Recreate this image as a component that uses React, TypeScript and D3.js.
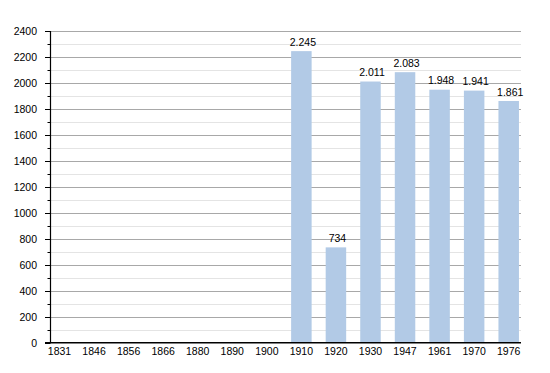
import React, { useRef, useEffect } from "react";
import * as d3 from "d3";

// Census years and population (missing years have no bar)
const years = [
  "1831", "1846", "1856", "1866", "1880", "1890", "1900",
  "1910", "1920", "1930", "1947", "1961", "1970", "1976",
];
const population: (number | null)[] = [
  null, null, null, null, null, null, null,
  2245, 734, 2011, 2083, 1948, 1941, 1861,
];
const majorTicks = [0, 200, 400, 600, 800, 1000, 1200, 1400, 1600, 1800, 2000, 2200, 2400];
const minorTicks = [100, 300, 500, 700, 900, 1100, 1300, 1500, 1700, 1900, 2100, 2300];

const WIDTH = 550;
const HEIGHT = 373;
const FONT = "'Liberation Sans', Arial, sans-serif";

const fmt = (v: number) => (v >= 1000 ? d3.format(",")(v).replace(/,/g, ".") : String(v));

export default function App() {
  const svgRef = useRef<SVGSVGElement>(null);

  useEffect(() => {
    if (!svgRef.current) return;
    const svg = d3.select(svgRef.current);
    svg.selectAll("*").remove();

    const left = 50.5;
    const right = 521;
    const bottom = 342.7;
    const top = 31;

    const y = d3.scaleLinear().domain([0, 2400]).range([bottom, top]);
    const x = d3.scalePoint<string>().domain(years).range([59.5, 508.7]);
    const barW = 20.5;

    // minor gridlines
    svg
      .append("g")
      .selectAll("line")
      .data(minorTicks)
      .join("line")
      .attr("x1", left)
      .attr("x2", right)
      .attr("y1", (d) => Math.round(y(d)) + 0.5)
      .attr("y2", (d) => Math.round(y(d)) + 0.5)
      .attr("stroke", "#e4e4e4")
      .attr("stroke-width", 1);

    // major gridlines
    svg
      .append("g")
      .selectAll("line")
      .data(majorTicks.filter((d) => d > 0))
      .join("line")
      .attr("x1", left)
      .attr("x2", right)
      .attr("y1", (d) => Math.round(y(d)) + 0.5)
      .attr("y2", (d) => Math.round(y(d)) + 0.5)
      .attr("stroke", "#a8a8a8")
      .attr("stroke-width", 1);

    const data = years
      .map((yr, i) => ({ yr, v: population[i] }))
      .filter((d) => d.v !== null) as { yr: string; v: number }[];

    // bars
    svg
      .append("g")
      .selectAll("rect")
      .data(data)
      .join("rect")
      .attr("x", (d) => (x(d.yr) as number) - barW / 2)
      .attr("width", barW)
      .attr("y", (d) => y(d.v))
      .attr("height", (d) => bottom - y(d.v))
      .attr("fill", "#b2cae6");

    // value labels
    svg
      .append("g")
      .selectAll("text")
      .data(data)
      .join("text")
      .attr("x", (d) => (x(d.yr) as number) + 1.5)
      .attr("y", (d) => y(d.v) - 5.5)
      .attr("text-anchor", "middle")
      .attr("font-family", FONT)
      .attr("font-size", 10.5)
      .attr("fill", "#000")
      .text((d) => fmt(d.v));

    // y axis ticks
    svg
      .append("g")
      .selectAll("line")
      .data(majorTicks)
      .join("line")
      .attr("x1", 45)
      .attr("x2", left)
      .attr("y1", (d) => Math.round(y(d)) + 0.5)
      .attr("y2", (d) => Math.round(y(d)) + 0.5)
      .attr("stroke", "#000");
    svg
      .append("g")
      .selectAll("line")
      .data(minorTicks)
      .join("line")
      .attr("x1", 47.5)
      .attr("x2", left)
      .attr("y1", (d) => Math.round(y(d)) + 0.5)
      .attr("y2", (d) => Math.round(y(d)) + 0.5)
      .attr("stroke", "#000");

    // y labels
    svg
      .append("g")
      .selectAll("text")
      .data(majorTicks)
      .join("text")
      .attr("x", 37)
      .attr("y", (d) => y(d) + 3.8)
      .attr("text-anchor", "end")
      .attr("font-family", FONT)
      .attr("font-size", 10.5)
      .attr("fill", "#000")
      .text((d) => d);

    // axis lines
    svg
      .append("line")
      .attr("x1", left)
      .attr("x2", left)
      .attr("y1", top)
      .attr("y2", bottom)
      .attr("stroke", "#000")
      .attr("stroke-width", 1.2);
    svg
      .append("line")
      .attr("x1", 45)
      .attr("x2", right)
      .attr("y1", bottom)
      .attr("y2", bottom)
      .attr("stroke", "#000")
      .attr("stroke-width", 1.5);

    // x labels
    svg
      .append("g")
      .selectAll("text")
      .data(years)
      .join("text")
      .attr("x", (d) => x(d) as number)
      .attr("y", 355)
      .attr("text-anchor", "middle")
      .attr("font-family", FONT)
      .attr("font-size", 10.5)
      .attr("fill", "#000")
      .text((d) => d);
  }, []);

  return (
    <svg
      ref={svgRef}
      width={WIDTH}
      height={HEIGHT}
      style={{ position: "absolute", left: 0, top: 0, background: "#fff" }}
    ></svg>
  );
}
